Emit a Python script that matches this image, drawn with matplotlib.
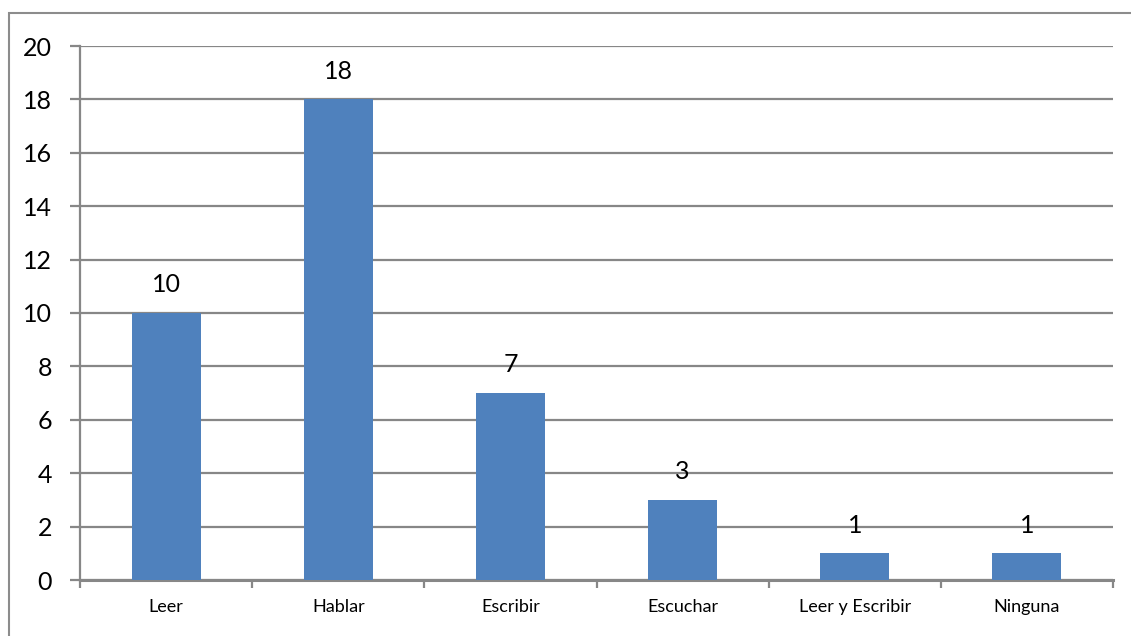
import matplotlib
matplotlib.use("Agg")
import matplotlib.pyplot as plt
from matplotlib.patches import Rectangle

categories = ["Leer", "Hablar", "Escribir", "Escuchar", "Leer y Escribir", "Ninguna"]
values = [10, 18, 7, 3, 1, 1]
y_ticks = [0, 2, 4, 6, 8, 10, 12, 14, 16, 18, 20]

W, H = 1131, 636
fig = plt.figure(figsize=(W / 100, H / 100), dpi=100)
plt.rcParams["font.family"] = ["Lato", "DejaVu Sans"]

# outer chart frame (extends past right and bottom edges)
fig.patches.append(Rectangle((9 / W, -0.1), 1.2, (H - 13) / H + 0.1,
                             transform=fig.transFigure, fill=False,
                             edgecolor="#8c8c8c", linewidth=1.5))

left, right, top, bottom = 80, 1113, 46, 580
ax = fig.add_axes([left / W, 1 - bottom / H, (right - left) / W, (bottom - top) / H])

grid_c = "#878787"
x = list(range(len(categories)))
ax.bar(x, values, width=0.4, color="#4F81BD", zorder=3)
for xi, v in zip(x, values):
    ax.annotate(str(v), (xi, v), xytext=(0, 12), textcoords="offset points",
                ha="center", va="bottom", fontsize=18, color="black")

ax.set_xlim(-0.5, len(categories) - 0.5)
ax.set_ylim(0, 20)
ax.set_yticks(y_ticks)
ax.set_yticklabels([str(t) for t in y_ticks], fontsize=18, color="black")
ax.yaxis.grid(True, color=grid_c, linewidth=1.6, zorder=0)
ax.set_axisbelow(True)

ax.set_xticks(x)
ax.set_xticklabels(categories, fontsize=13, color="black")
ax.tick_params(axis="x", length=0, pad=14)
ax.tick_params(axis="y", length=7, width=1.6, color=grid_c, pad=13)
# category boundary ticks
ax.set_xticks([i - 0.5 for i in range(len(categories) + 1)], minor=True)
ax.tick_params(axis="x", which="minor", length=6, width=1.6, color=grid_c)

for s in ["top", "right"]:
    ax.spines[s].set_visible(False)
ax.spines["left"].set_color(grid_c)
ax.spines["left"].set_linewidth(1.6)
ax.spines["bottom"].set_color(grid_c)
ax.spines["bottom"].set_linewidth(2.2)

fig.savefig("out.png", dpi=100)
